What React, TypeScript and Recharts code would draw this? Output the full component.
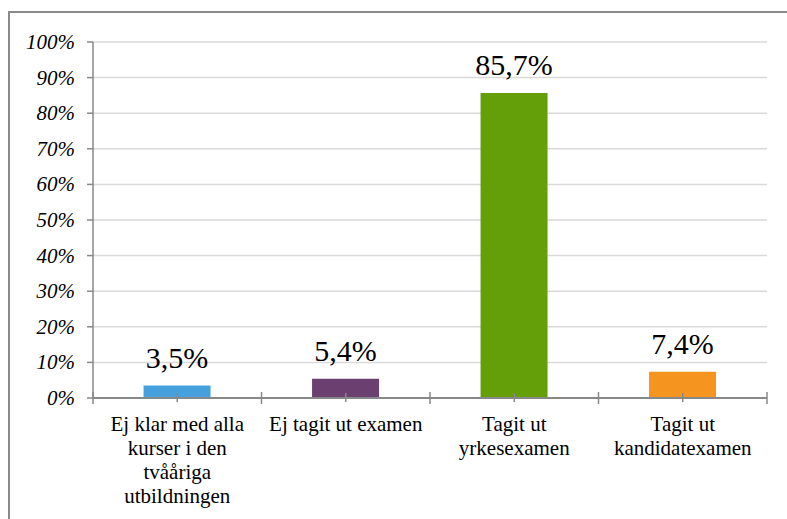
import React from 'react';
import { BarChart, Bar, XAxis, YAxis, CartesianGrid, LabelList, Cell } from 'recharts';

const categories = ['Ej klar med alla kurser i den tvååriga utbildningen', 'Ej tagit ut examen', 'Tagit ut yrkesexamen', 'Tagit ut kandidatexamen'];
const categoryLines = [
  ['Ej klar med alla', 'kurser i den', 'tvååriga', 'utbildningen'],
  ['Ej tagit ut examen'],
  ['Tagit ut', 'yrkesexamen'],
  ['Tagit ut', 'kandidatexamen'],
];
const values = [3.5, 5.4, 85.7, 7.4];
const yTicks = [0, 10, 20, 30, 40, 50, 60, 70, 80, 90, 100];
const barColors = ['#45a0dc', '#6b4070', '#649f0a', '#f5951f'];

const data = categories.map((c, i) => ({ name: c, idx: i, value: values[i] }));

const FONT = '"Liberation Serif", "Times New Roman", serif';
const AXIS = '#888888';

const XTick = (props: any) => {
  const { x, y, payload, index, visibleTicksCount } = props;
  const i = payload.index ?? index;
  const lines = categoryLines[i] || [String(payload.value)];
  const off = payload.offset;
  const n = visibleTicksCount ?? categories.length;
  return (
    <g>
      <line x1={x} x2={x} y1={y - 5} y2={y + 4} stroke={AXIS} strokeWidth={1.5} />
      {typeof off === 'number' && (
        <line x1={x - off} x2={x - off} y1={y - 6} y2={y + 6} stroke={AXIS} strokeWidth={1.5} />
      )}
      {typeof off === 'number' && i === n - 1 && (
        <line x1={x + off} x2={x + off} y1={y - 6} y2={y + 6} stroke={AXIS} strokeWidth={1.5} />
      )}
      <text x={x} y={y + 33} textAnchor="middle" fontFamily={FONT} fontSize={21} fill="#000">
        {lines.map((l: string, k: number) => (
          <tspan key={k} x={x} dy={k === 0 ? 0 : 24}>{l}</tspan>
        ))}
      </text>
    </g>
  );
};

const YTick = (props: any) => {
  const { x, y, payload } = props;
  return (
    <text x={x} y={y} dy={7} textAnchor="end" fontFamily={FONT} fontSize={21} fontStyle="italic" fill="#000">
      {`${payload.value}%`}
    </text>
  );
};

const fmt = (v: any) => Number(v).toFixed(1).replace('.', ',') + '%';

const BarLabel = (props: any) => {
  const { x, y, width, value } = props;
  return (
    <text x={Number(x) + Number(width) / 2} y={Number(y) - 18} textAnchor="middle" fontFamily={FONT} fontSize={30} fill="#000">
      {fmt(value)}
    </text>
  );
};

export default function App() {
  return (
    <div style={{ position: 'fixed', left: 0, top: 0, width: 787, height: 519, background: '#fff' }}>
      <div style={{ position: 'absolute', left: 8, top: 11, width: 900, height: 700, borderTop: '2px solid #8a8a8a', borderLeft: '2px solid #8a8a8a' }} />
      <div style={{ position: 'absolute', left: 0, top: 0 }}>
        <BarChart width={787} height={519} data={data} margin={{ top: 42, right: 20, bottom: 0, left: 0 }} barCategoryGap="30%">
          <CartesianGrid vertical={false} stroke="#d9d9d9" strokeWidth={1.5} />
          <XAxis
            dataKey="name"
            height={121}
            interval={0}
            tickLine={false}
            tickSize={0}
            tickMargin={0}
            axisLine={{ stroke: AXIS, strokeWidth: 2 }}
            tick={<XTick />}
          />
          <YAxis
            width={93}
            domain={[0, 100]}
            ticks={yTicks}
            interval={0}
            tickSize={6}
            tickMargin={12}
            axisLine={{ stroke: AXIS, strokeWidth: 1.5 }}
            tickLine={{ stroke: AXIS, strokeWidth: 1.5 }}
            tick={<YTick />}
          />
          <Bar dataKey="value" isAnimationActive={false}>
            {data.map((d, i) => (
              <Cell key={i} fill={barColors[i]} />
            ))}
            <LabelList dataKey="value" content={<BarLabel />} />
          </Bar>
        </BarChart>
      </div>
    </div>
  );
}
